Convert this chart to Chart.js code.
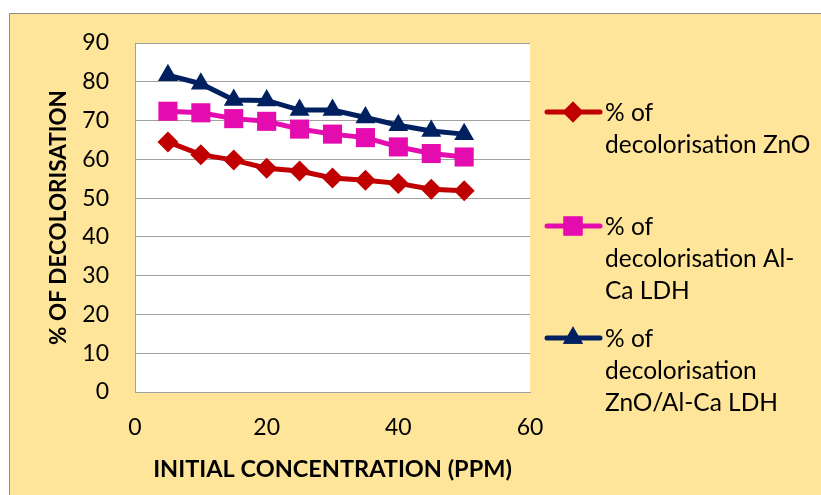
<!DOCTYPE html>
<html>
<head>
<meta charset="utf-8">
<script src="https://cdn.jsdelivr.net/npm/chart.js@4.4.1/dist/chart.umd.min.js"></script>
<style>
  html, body { margin: 0; padding: 0; background: #fff; }
  #wrap { position: relative; width: 821px; height: 495px; }
</style>
</head>
<body>
<div id="wrap"><canvas id="decolChart"></canvas></div>
<script>
// Initial dye concentration (ppm)
const concentration = [5, 10, 15, 20, 25, 30, 35, 40, 45, 50];

// % decolorisation for each catalyst
const znoValues = [64.5, 61.2, 59.8, 57.7, 57.0, 55.2, 54.6, 53.8, 52.3, 51.9];
const alCaValues = [72.4, 72.0, 70.5, 69.8, 67.8, 66.5, 65.6, 63.2, 61.5, 60.6];
const compositeValues = [81.7, 79.5, 75.3, 75.2, 72.7, 72.7, 70.8, 68.8, 67.3, 66.5];

const seriesLabels = [
    ['% of', 'decolorisation ZnO'],
    ['% of', 'decolorisation Al-', 'Ca LDH'],
    ['% of', 'decolorisation', 'ZnO/Al-Ca LDH']
];

const xTicks = [0, 20, 40, 60];
const yTicks = [0, 10, 20, 30, 40, 50, 60, 70, 80, 90];

const FONT = 'Lato, "Open Sans", sans-serif';

function pts(values) {
    return concentration.map((c, i) => ({ x: c, y: values[i] }));
}

// yellow card behind the chart + white plot area
const backdrop = {
    id: 'backdrop',
    beforeDraw(chart) {
        const { ctx, chartArea: a } = chart;
        ctx.save();
        ctx.fillStyle = '#ffffff';
        ctx.fillRect(0, 0, chart.width, chart.height);
        ctx.fillStyle = '#FFE599';
        ctx.fillRect(9, 13, chart.width - 9, chart.height - 13);
        ctx.strokeStyle = '#8c8c8c';
        ctx.lineWidth = 1;
        ctx.beginPath();
        ctx.moveTo(9.5, chart.height);
        ctx.lineTo(9.5, 13.5);
        ctx.lineTo(chart.width, 13.5);
        ctx.stroke();
        ctx.fillStyle = '#ffffff';
        ctx.fillRect(a.left, a.top, a.right - a.left, a.bottom - a.top);
        ctx.restore();
    }
};

// legend on the right, wrapped over several lines
const sideLegend = {
    id: 'sideLegend',
    afterDraw(chart) {
        const { ctx } = chart;
        const markY = [112, 226, 338];
        ctx.save();
        chart.data.datasets.forEach((ds, i) => {
            const y = markY[i];
            ctx.strokeStyle = ds.borderColor;
            ctx.lineWidth = 5;
            ctx.lineCap = 'round';
            ctx.beginPath();
            ctx.moveTo(547, y);
            ctx.lineTo(600, y);
            ctx.stroke();
            ctx.fillStyle = ds.pointBackgroundColor;
            Chart.helpers.drawPoint(ctx, {
                pointStyle: ds.pointStyle,
                radius: ds.pointRadius,
                rotation: 0,
                borderWidth: 0
            }, 573, y);
            ctx.fill();
            ctx.fillStyle = '#000000';
            ctx.font = '24.5px ' + FONT;
            ctx.textAlign = 'left';
            ctx.textBaseline = 'alphabetic';
            seriesLabels[i].forEach((line, j) => {
                ctx.fillText(line, 605, y + 9 + j * 32);
            });
        });
        ctx.restore();
    }
};

new Chart(document.getElementById('decolChart'), {
    type: 'line',
    data: {
        datasets: [
            {
                label: seriesLabels[0].join(' '),
                data: pts(znoValues),
                borderColor: '#C00000',
                backgroundColor: '#C00000',
                pointBackgroundColor: '#C00000',
                pointBorderColor: '#C00000',
                pointStyle: 'rectRot',
                pointRadius: 10.5
            },
            {
                label: seriesLabels[1].join(' '),
                data: pts(alCaValues),
                borderColor: '#E40CAE',
                backgroundColor: '#E40CAE',
                pointBackgroundColor: '#E40CAE',
                pointBorderColor: '#E40CAE',
                pointStyle: 'rect',
                pointRadius: 13.5
            },
            {
                label: seriesLabels[2].join(' '),
                data: pts(compositeValues),
                borderColor: '#002060',
                backgroundColor: '#002060',
                pointBackgroundColor: '#002060',
                pointBorderColor: '#002060',
                pointStyle: 'triangle',
                pointRadius: 11.5
            }
        ]
    },
    options: {
        responsive: true,
        maintainAspectRatio: false,
        animation: false,
        events: [],
        datasets: {
            line: { borderWidth: 5, pointBorderWidth: 0, tension: 0, fill: false }
        },
        layout: { padding: { left: 0, right: 291, top: 43, bottom: 0 } },
        plugins: {
            legend: { display: false },
            tooltip: { enabled: false }
        },
        scales: {
            x: {
                type: 'linear',
                min: 0,
                max: 60,
                afterBuildTicks: s => { s.ticks = xTicks.map(v => ({ value: v })); },
                afterFit: s => { s.height = 103; },
                grid: { display: false, drawTicks: false },
                border: { display: true, color: '#A0A0A0', width: 1 },
                ticks: { color: '#000', font: { family: FONT, size: 23 }, padding: 22, maxRotation: 0 },
                title: {
                    display: true,
                    text: 'INITIAL CONCENTRATION (PPM)',
                    color: '#000',
                    font: { family: FONT, size: 23.5, weight: 'bold' },
                    padding: { top: 0, bottom: 11 }
                }
            },
            y: {
                min: 0,
                max: 90,
                afterBuildTicks: s => { s.ticks = yTicks.map(v => ({ value: v })); },
                afterFit: s => { s.width = 135; },
                grid: { color: '#A0A0A0', lineWidth: 1, drawTicks: false },
                border: { display: true, color: '#A0A0A0', width: 1 },
                ticks: { color: '#000', font: { family: FONT, size: 23 }, padding: 26 },
                title: {
                    display: true,
                    text: '% OF DECOLORISATION',
                    color: '#000',
                    font: { family: FONT, size: 22.5, weight: 'bold' },
                    padding: { top: 45, bottom: 0 }
                }
            }
        }
    },
    plugins: [backdrop, sideLegend]
});
</script>
</body>
</html>
